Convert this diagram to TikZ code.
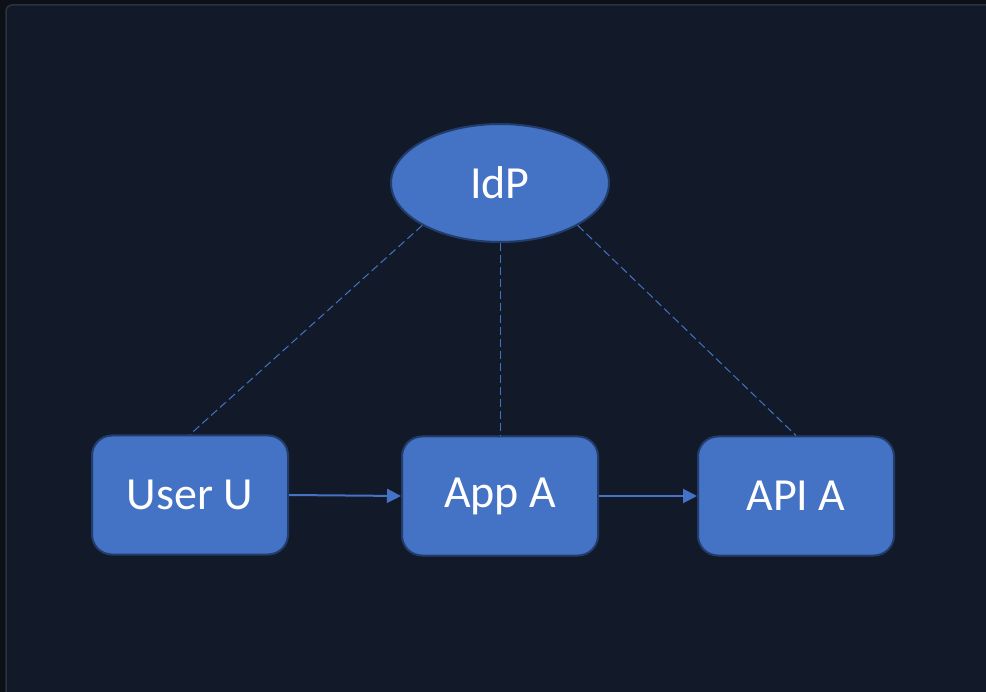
\documentclass[tikz,border=0pt]{standalone}
\usepackage{fontspec}
\setmainfont{Carlito}
\usetikzlibrary{shapes.geometric,arrows.meta}
\definecolor{outerbg}{HTML}{0D1117}
\definecolor{panelbg}{HTML}{121A29}
\definecolor{panelrim}{HTML}{2B3240}
\definecolor{boxfill}{HTML}{4472C4}
\definecolor{boxrim}{HTML}{223D6B}
\tikzset{
  x=1pt,y=1pt,
  boxnode/.style={draw=boxrim, line width=2pt, fill=boxfill, rounded corners=20pt,
    minimum width=196pt, minimum height=119pt, text=white, font=\fontsize{46}{50}\selectfont, inner sep=0pt},
  ellnode/.style={ellipse, draw=boxrim, line width=2pt, fill=boxfill,
    minimum width=218pt, minimum height=118pt, text=white, font=\fontsize{46}{50}\selectfont, inner sep=0pt},
  dashlink/.style={draw=boxfill, line width=1pt, dash pattern=on 8pt off 4pt},
  flow/.style={draw=boxfill, line width=2pt, -{Triangle[length=14pt,width=14pt]}}
}
\begin{document}
\begin{tikzpicture}
\useasboundingbox (0,0) rectangle (986,-692);
\fill[outerbg] (0,0) rectangle (986,-692);
\draw[panelrim, fill=panelbg, line width=1.5pt, rounded corners=6pt] (6,-5) rectangle (1000,-710);
\node[ellnode] (idp) at (500,-183) {IdP};
\node[boxnode] (user) at (190,-495) {User U};
\node[boxnode] (app) at (500,-496) {App A};
\node[boxnode] (api) at (796,-496) {API A};
\draw[dashlink] (idp.south west) -- (user.north);
\draw[dashlink] (idp.south) -- (app.north);
\draw[dashlink] (idp.south east) -- (api.north);
\draw[flow] (user.east) -- (app.west);
\draw[flow] (app.east) -- (api.west);
\end{tikzpicture}
\end{document}
